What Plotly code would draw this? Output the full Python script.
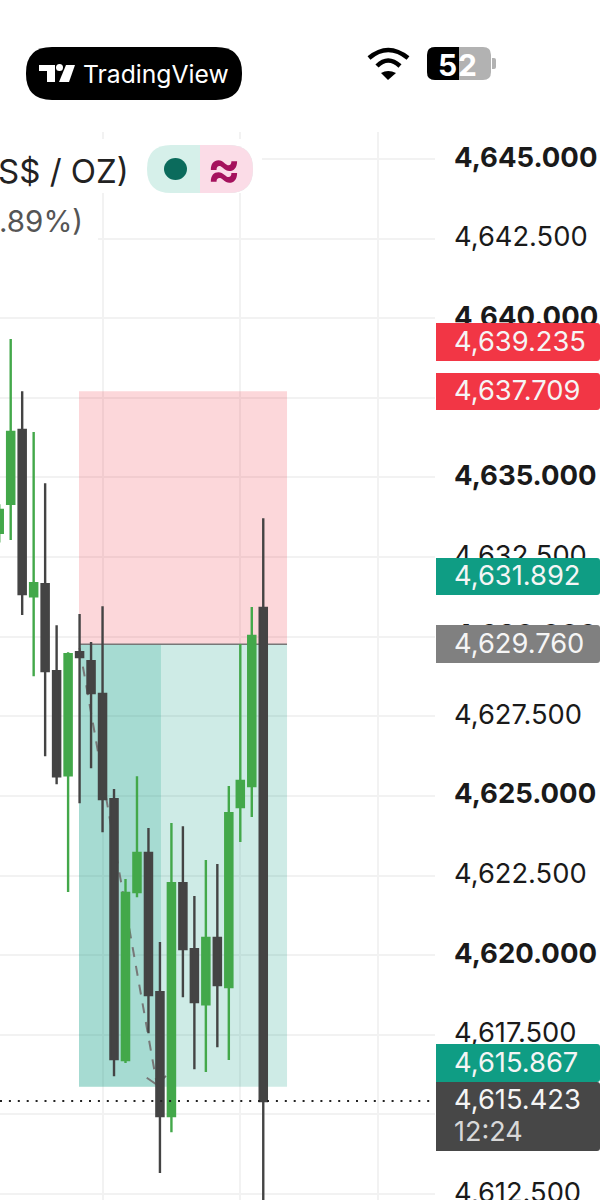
import plotly.graph_objects as go

candle_x = list(range(-1, 23))
opens = [4633.26, 4634.17, 4636.49, 4631.27, 4631.65, 4628.92, 4625.65, 4629.51, 4629.23, 4628.20, 4624.90, 4616.71,
         4621.98, 4623.21, 4618.84, 4614.95, 4622.26, 4620.19, 4618.46, 4620.54, 4619.00, 4624.65, 4625.31, 4630.90]
highs = [4634.16, 4639.35, 4637.71, 4636.43, 4634.82, 4630.36, 4629.51, 4630.71, 4629.83, 4630.96, 4625.22, 4622.39,
         4625.62, 4623.99, 4620.41, 4624.15, 4624.05, 4621.86, 4622.99, 4622.86, 4625.31, 4629.77, 4630.93, 4633.72]
lows = [4632.96, 4633.04, 4630.68, 4628.76, 4626.25, 4625.37, 4621.98, 4624.77, 4625.87, 4623.86, 4616.20, 4616.61,
        4621.82, 4617.55, 4613.16, 4614.44, 4618.68, 4616.42, 4616.33, 4617.11, 4616.71, 4623.55, 4624.34, 4611.56]
closes = [4633.98, 4636.43, 4631.34, 4631.68, 4628.92, 4625.62, 4629.45, 4629.36, 4628.23, 4624.90, 4616.74, 4621.95,
          4623.21, 4618.75, 4614.95, 4622.26, 4620.19, 4618.53, 4620.54, 4619.06, 4624.46, 4625.47, 4630.02, 4615.42]

# Axis ticks
tick_vals = [4645, 4642.5, 4640, 4637.5, 4635, 4632.5, 4630, 4627.5, 4625, 4622.5, 4620, 4617.5, 4615, 4612.5]
tick_labels = ["4,645.000", "4,642.500", "4,640.000", "4,637.500", "4,635.000", "4,632.500", "4,630.000",
               "4,627.500", "4,625.000", "4,622.500", "4,620.000", "4,617.500", "4,615.000", "4,612.500"]
grid_x = [8, 20, 32]
x_range = [-0.932, 36.96]
y_range = [4612.312, 4645.848]

# Long position tool
stop_price = 4637.709
entry_price = 4629.760
target_price = 4615.867
last_price = 4615.423
tool_x = [5.95, 24.07]
tool_filled_x = 13.09
arrow_x = [6, 12.74]
arrow_y = [4629.65, 4615.93]
arrow_head_x = [11.85, 12.74, 13.53]
arrow_head_y = [4616.15, 4615.93, 4616.21]

# Price tags on the scale: text, top px, bottom px, colour
tag_text = ["4,639.235", "4,637.709", "4,631.892", "4,629.760", "4,615.867", "4,615.423"]
tag_top = [323, 373, 558, 625, 1044, 1082]
tag_bottom = [361, 410, 595, 663, 1082, 1151]
tag_color = ["#f23645", "#f23645", "#0f9d84", "#808080", "#0f9d84", "#474747"]

WIDTH = 612
HEIGHT = 1200
PLOT_RIGHT = 435
PLOT_TOP = 132
FONT = "Inter"
GREEN = "#43a84a"
DARK = "#444444"
GRID = "#f2f2f2"


def px(x):
    return x / WIDTH


def py(y):
    return 1 - y / HEIGHT


def pt(x, y):
    return f"{px(x):.5f},{py(y):.5f}"


def data_x(x):
    return x_range[0] + (x_range[1] - x_range[0]) * x / PLOT_RIGHT


def data_y(y):
    return y_range[1] - (y_range[1] - y_range[0]) * (y - PLOT_TOP) / (HEIGHT - PLOT_TOP)


def round_rect(x0, y0, x1, y1, rl, rr):
    # svg path in paper coords, rl/rr = left and right corner radius in pixels
    return (f"M{pt(x0 + rl, y0)} L{pt(x1 - rr, y0)} Q{pt(x1, y0)} {pt(x1, y0 + rr)} "
            f"L{pt(x1, y1 - rr)} Q{pt(x1, y1)} {pt(x1 - rr, y1)} L{pt(x0 + rl, y1)} "
            f"Q{pt(x0, y1)} {pt(x0, y1 - rl)} L{pt(x0, y0 + rl)} Q{pt(x0, y0)} {pt(x0 + rl, y0)} Z")


def paper_path(path, fill=None, line=None, width=0):
    return dict(type="path", xref="paper", yref="paper", path=path, fillcolor=fill or "rgba(0,0,0,0)",
                line=dict(color=line or "rgba(0,0,0,0)", width=width), layer="above")


def label(x, y, text, size, color, anchor="left", weight=None):
    if weight:
        text = f"<b>{text}</b>"
    return dict(xref="paper", yref="paper", x=px(x), y=py(y), text=text, showarrow=False, xanchor=anchor,
                yanchor="middle", font=dict(family=FONT, size=size, color=color))


fig = go.Figure()

fig.add_trace(go.Candlestick(
    x=candle_x, open=opens, high=highs, low=lows, close=closes,
    increasing=dict(line=dict(color=GREEN, width=2.4), fillcolor=GREEN),
    decreasing=dict(line=dict(color=DARK, width=2.4), fillcolor=DARK),
    whiskerwidth=0, hoverinfo="skip", showlegend=False,
))

shapes = []

# White patches where the legend hides the grid
for x0, y0, x1, y1 in [(0, 139, 262, 193), (0, 193, 98, 245)]:
    shapes.append(dict(type="rect", x0=data_x(x0), x1=data_x(x1), y0=data_y(y0), y1=data_y(y1),
                       fillcolor="white", line=dict(width=0), layer="between"))

# Position tool
shapes += [
    dict(type="rect", x0=tool_x[0], x1=tool_x[1], y0=entry_price, y1=stop_price,
         fillcolor="rgba(242,54,69,0.2)", line=dict(width=0), layer="between"),
    dict(type="rect", x0=tool_x[0], x1=tool_x[1], y0=target_price, y1=entry_price,
         fillcolor="rgba(8,153,129,0.2)", line=dict(width=0), layer="between"),
    dict(type="rect", x0=tool_x[0], x1=tool_filled_x, y0=target_price, y1=entry_price,
         fillcolor="rgba(8,153,129,0.2)", line=dict(width=0), layer="between"),
    dict(type="line", x0=tool_x[0], x1=tool_x[1], y0=entry_price, y1=entry_price,
         line=dict(color="#777777", width=1.5), layer="between"),
    dict(type="line", x0=arrow_x[0], x1=arrow_x[1], y0=arrow_y[0], y1=arrow_y[1],
         line=dict(color="#777777", width=2, dash="10px,9px"), layer="between"),
    dict(type="path", path=" ".join(("M" if i == 0 else "L") + f"{a},{b}"
                                    for i, (a, b) in enumerate(zip(arrow_head_x, arrow_head_y))),
         line=dict(color="#777777", width=2), layer="between"),
    # dotted last price line
    dict(type="line", xref="x domain", x0=0, x1=1, y0=last_price, y1=last_price,
         line=dict(color="#222222", width=2, dash="2px,6.9px"), layer="above"),
]

# Price tags
annotations = []
for text, top, bottom, color in zip(tag_text, tag_top, tag_bottom, tag_color):
    shapes.append(paper_path(round_rect(436, top, 600, bottom, 0, 3), fill=color))
annotations += [label(452, (tag_top[i] + tag_bottom[i]) / 2 - 1, tag_text[i], 27.3, "#f5f5f5") for i in range(5)]
annotations.append(label(452, 1099, tag_text[5], 27.3, "#f5f5f5"))
annotations.append(label(452, 1131, "12:24", 27, "#d8d8d8"))

# TradingView badge
shapes.append(paper_path(round_rect(26, 47, 242, 100, 26, 26), fill="black"))
shapes.append(paper_path(f"M{pt(39, 65)} L{pt(55, 65)} L{pt(55, 82)} L{pt(47, 82)} L{pt(47, 71)} L{pt(39, 71)} Z", fill="white"))
shapes.append(dict(type="circle", xref="paper", yref="paper", x0=px(56), x1=px(63), y0=py(64), y1=py(71),
                   fillcolor="white", line=dict(width=0), layer="above"))
shapes.append(paper_path(f"M{pt(66, 65)} L{pt(75, 65)} L{pt(69, 82)} L{pt(59, 82)} Z", fill="white"))
annotations.append(label(81, 74, "TradingView", 24.7, "white"))

# Wifi and battery
shapes.append(paper_path(f"M{pt(369, 58)} Q{pt(388, 42)} {pt(408, 58)}", line="black", width=4.5))
shapes.append(paper_path(f"M{pt(377, 66)} Q{pt(388, 55)} {pt(400, 66)}", line="black", width=4.5))
shapes.append(paper_path(f"M{pt(381, 73)} Q{pt(388, 69)} {pt(396, 73)} L{pt(388, 80)} Z", fill="black"))
shapes.append(paper_path(round_rect(427, 47, 491, 80, 8, 8), fill="#b2b2b2"))
shapes.append(paper_path(f"M{pt(435, 47)} L{pt(459, 47)} L{pt(459, 80)} L{pt(435, 80)} Q{pt(427, 80)} {pt(427, 72)} "
                         f"L{pt(427, 55)} Q{pt(427, 47)} {pt(435, 47)} Z", fill="black"))
shapes.append(paper_path(round_rect(492, 58, 496, 69, 0, 2), fill="#b2b2b2"))
annotations.append(label(447, 65, "5", 30, "white", anchor="center", weight=True))
annotations.append(label(468, 65, "2", 30, "white", anchor="center", weight=True))

# Legend text and pill
annotations.append(label(131, 171, "S$ / OZ)", 33, "#222222", anchor="right"))
annotations.append(label(85, 221, ".89%)", 29.5, "#555555", anchor="right"))
shapes.append(paper_path(round_rect(147, 145, 253, 193, 24, 24), fill="#d6f0ea"))
shapes.append(paper_path(f"M{pt(200, 145)} L{pt(229, 145)} Q{pt(253, 145)} {pt(253, 169)} Q{pt(253, 193)} {pt(229, 193)} "
                         f"L{pt(200, 193)} Z", fill="#fbdce7"))
shapes.append(dict(type="circle", xref="paper", yref="paper", x0=px(164), x1=px(187), y0=py(158), y1=py(180),
                   fillcolor="#0b6b5c", line=dict(width=0), layer="above"))
annotations.append(label(224, 168, "≈", 50, "#a5125d", anchor="center", weight=True))

# Round levels are printed bold and a little wider on the scale
tick_text = [f'<span style="font-size:27.5px"><b>{t}</b></span>' if v % 5 == 0 else t
             for v, t in zip(tick_vals, tick_labels)]

fig.update_layout(
    width=WIDTH, height=HEIGHT,
    margin=dict(l=0, r=0, t=0, b=0),
    paper_bgcolor="white", plot_bgcolor="white",
    showlegend=False,
    boxgap=0.38, boxgroupgap=0,
    shapes=shapes, annotations=annotations,
    font=dict(family=FONT),
    xaxis=dict(domain=[0, PLOT_RIGHT / WIDTH], range=x_range, tickvals=grid_x, showticklabels=False,
               ticks="", showgrid=True, gridcolor=GRID, gridwidth=1.5, zeroline=False, showline=False,
               rangeslider=dict(visible=False), fixedrange=True, automargin=False),
    yaxis=dict(domain=[0, (HEIGHT - PLOT_TOP) / HEIGHT], range=y_range, side="right", tickvals=tick_vals,
               ticktext=tick_text, ticks="", ticklabelstandoff=18, ticklabelshift=-2, ticklabeloverflow="allow",
               tickfont=dict(family=FONT, size=27.3, color="#1a1a1a"), showgrid=True, gridcolor=GRID,
               gridwidth=1.5, zeroline=False, showline=False, fixedrange=True, automargin=False),
)

fig.write_html("out.html", config={"displayModeBar": False}, post_script="document.body.style.margin='0';")
